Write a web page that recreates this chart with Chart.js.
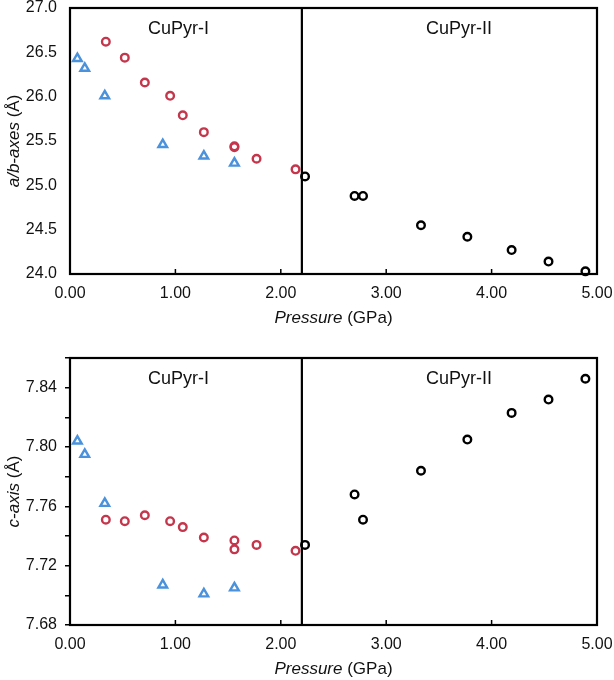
<!DOCTYPE html>
<html>
<head>
<meta charset="utf-8">
<script src="https://cdn.jsdelivr.net/npm/chart.js@4/dist/chart.umd.min.js"></script>
<style>
  body { margin: 0; background: #fff; }
  .box { position: absolute; left: 0; width: 614px; height: 340px; }
</style>
</head>
<body>
<div class="box" style="top:0"><canvas id="abChart"></canvas></div>
<div class="box" style="top:340px"><canvas id="cChart"></canvas></div>
<script>
// pressure (GPa) for each series
var pressureRed  = [0.34, 0.52, 0.71, 0.95, 1.07, 1.27, 1.56, 1.56, 1.77, 2.14];
var pressureBlue = [0.07, 0.14, 0.33, 0.88, 1.27, 1.56];
var pressureII   = [2.23, 2.70, 2.78, 3.33, 3.77, 4.19, 4.54, 4.89];

// a/b-axes (Å)
var abRed  = [26.62, 26.44, 26.16, 26.01, 25.79, 25.60, 25.44, 25.43, 25.30, 25.18];
var abBlue = [26.43, 26.32, 26.01, 25.46, 25.33, 25.25];
var abII   = [25.10, 24.88, 24.88, 24.55, 24.42, 24.27, 24.14, 24.03];

// c-axis (Å)
var cRed  = [7.751, 7.750, 7.754, 7.750, 7.746, 7.739, 7.737, 7.731, 7.734, 7.730];
var cBlue = [7.804, 7.795, 7.762, 7.707, 7.701, 7.705];
var cII   = [7.734, 7.768, 7.751, 7.784, 7.805, 7.823, 7.832, 7.846];

var phaseBoundary = 2.2;
var phaseLabels = ["CuPyr-I", "CuPyr-II"];

var FONT = '"Liberation Sans", Arial, sans-serif';
var RED = "#C4364C";
var BLUE = "#4A92DC";

function pts(xs, ys) {
  var out = [];
  for (var i = 0; i < xs.length; i++) out.push({x: xs[i], y: ys[i]});
  return out;
}

// draw text made of parts with different fonts, centred on (cx, cy)
function drawRich(ctx, parts, cx, cy, rot) {
  var total = 0;
  parts.forEach(function(p) { ctx.font = p.font; total += ctx.measureText(p.text).width; });
  ctx.save();
  ctx.translate(cx, cy);
  if (rot) ctx.rotate(rot);
  ctx.textBaseline = "middle";
  ctx.textAlign = "left";
  var x = -total / 2;
  parts.forEach(function(p) {
    ctx.font = p.font;
    ctx.fillText(p.text, x, 0);
    x += ctx.measureText(p.text).width;
  });
  ctx.restore();
}

var framePlugin = {
  id: "frame",
  beforeDatasetsDraw: function(chart) {
    var ctx = chart.ctx, a = chart.chartArea, xs = chart.scales.x;
    ctx.save();
    ctx.strokeStyle = "#000";
    // inward ticks on the pressure axis
    ctx.lineWidth = 1.5;
    xs.ticks.forEach(function(t) {
      var px = xs.getPixelForValue(t.value);
      ctx.beginPath();
      ctx.moveTo(px, a.bottom);
      ctx.lineTo(px, a.bottom - 5);
      ctx.stroke();
    });
    // phase boundary
    var bx = xs.getPixelForValue(phaseBoundary);
    ctx.lineWidth = 2.2;
    ctx.beginPath();
    ctx.moveTo(bx, a.top);
    ctx.lineTo(bx, a.bottom);
    ctx.stroke();
    // box
    ctx.lineWidth = 2.2;
    ctx.strokeRect(a.left, a.top, a.right - a.left, a.bottom - a.top);
    ctx.restore();
  },
  afterDraw: function(chart, args, opts) {
    var ctx = chart.ctx, a = chart.chartArea;
    var xs = chart.scales.x;
    ctx.save();
    ctx.fillStyle = "#111";
    ctx.textAlign = "center";
    ctx.textBaseline = "middle";
    ctx.font = "18px " + FONT;
    ctx.fillText(phaseLabels[0], xs.getPixelForValue(1.03), a.top + 21);
    ctx.fillText(phaseLabels[1], xs.getPixelForValue(3.69), a.top + 21);

    drawRich(ctx, [
      {text: "Pressure", font: "italic 17px " + FONT},
      {text: " (GPa)", font: "17px " + FONT}
    ], (a.left + a.right) / 2, a.bottom + 44, 0);

    drawRich(ctx, opts.yTitle, a.left - 56, (a.top + a.bottom) / 2, -Math.PI / 2);
    ctx.restore();
  }
};

function makeChart(id, redY, blueY, blackY, yAxis, yTitle, padTop, xHeight) {
  var ds = function(data, color, style, r) {
    return {
      data: data,
      showLine: false,
      pointStyle: style,
      pointRadius: r,
      pointHoverRadius: r,
      pointBorderWidth: 2.4,
      borderColor: color,
      backgroundColor: "rgba(255,255,255,0)",
      pointBackgroundColor: "rgba(255,255,255,0)",
      clip: false
    };
  };
  return new Chart(document.getElementById(id), {
    type: "scatter",
    data: {
      datasets: [
        ds(pts(pressureII, blackY), "#000", "circle", 3.8),
        ds(pts(pressureBlue, blueY), BLUE, "triangle", 5),
        ds(pts(pressureRed, redY), RED, "circle", 3.8)
      ]
    },
    options: {
      responsive: true,
      maintainAspectRatio: false,
      animation: false,
      events: [],
      layout: { padding: { top: padTop, right: 17, left: 0, bottom: 0 } },
      plugins: {
        legend: { display: false },
        tooltip: { enabled: false },
        frame: { yTitle: yTitle }
      },
      scales: {
        x: {
          type: "linear",
          min: 0, max: 5,
          grid: { display: false, drawTicks: false },
          border: { display: false },
          ticks: {
            stepSize: 1,
            padding: 10,
            color: "#111",
            font: { family: FONT, size: 16 },
            callback: function(v) { return v.toFixed(2); }
          },
          afterFit: function(s) { s.height = xHeight; s.paddingLeft = 0; s.paddingRight = 0; }
        },
        y: yAxis
      }
    },
    plugins: [framePlugin]
  });
}

makeChart("abChart", abRed, abBlue, abII, {
  min: 24, max: 27,
  grid: { display: false, drawTicks: false },
  border: { display: false },
  ticks: {
    stepSize: 0.5,
    padding: 13,
    color: "#111",
    font: { family: FONT, size: 16 },
    callback: function(v) { return v.toFixed(1); }
  },
  afterFit: function(s) { s.width = 70; s.paddingTop = 0; s.paddingBottom = 0; }
}, [
  {text: "a/b-axes", font: "italic 17px " + FONT},
  {text: " (Å)", font: "17px " + FONT}
], 8, 66);

makeChart("cChart", cRed, cBlue, cII, {
  min: 7.68, max: 7.86,
  grid: { display: true, drawOnChartArea: false, drawTicks: true, tickLength: 5, color: "#000", lineWidth: 1.5 },
  border: { display: false },
  ticks: {
    stepSize: 0.02,
    padding: 8,
    color: "#111",
    font: { family: FONT, size: 16 },
    callback: function(v) {
      var k = Math.round(v * 100);
      return k % 4 === 0 ? v.toFixed(2) : "";
    }
  },
  afterFit: function(s) { s.width = 70; s.paddingTop = 0; s.paddingBottom = 0; }
}, [
  {text: "c-axis", font: "italic 17px " + FONT},
  {text: " (Å)", font: "17px " + FONT}
], 18, 55);
</script>
</body>
</html>
